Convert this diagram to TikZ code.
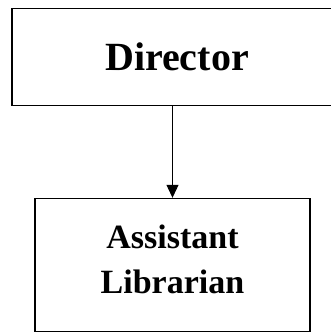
\documentclass[tikz,border=0pt]{standalone}
\usepackage{fontspec}
\setmainfont{Liberation Serif}
\usetikzlibrary{arrows.meta,positioning}

\tikzset{
  postbox/.style={draw, line width=1.4pt, inner sep=0pt, align=center,
    font=\bfseries\fontsize{34}{45}\selectfont},
}

\begin{document}
\begin{tikzpicture}[x=1pt,y=-1pt]
  \useasboundingbox (0,0) rectangle (330,335);
  % top box runs off the right edge
  \node[postbox, minimum width=330pt, minimum height=97pt,
    font=\bfseries\fontsize{40}{48}\selectfont] (director) at (177,57) {Director};
  \node[postbox, minimum width=275pt, minimum height=133pt, text depth=12pt] (asst) at (172.5,265)
    {Assistant\\Librarian};
  \draw[line width=1pt, -{Triangle[length=13pt,width=12pt]}] (asst.north |- director.south) -- (asst.north);
\end{tikzpicture}
\end{document}
